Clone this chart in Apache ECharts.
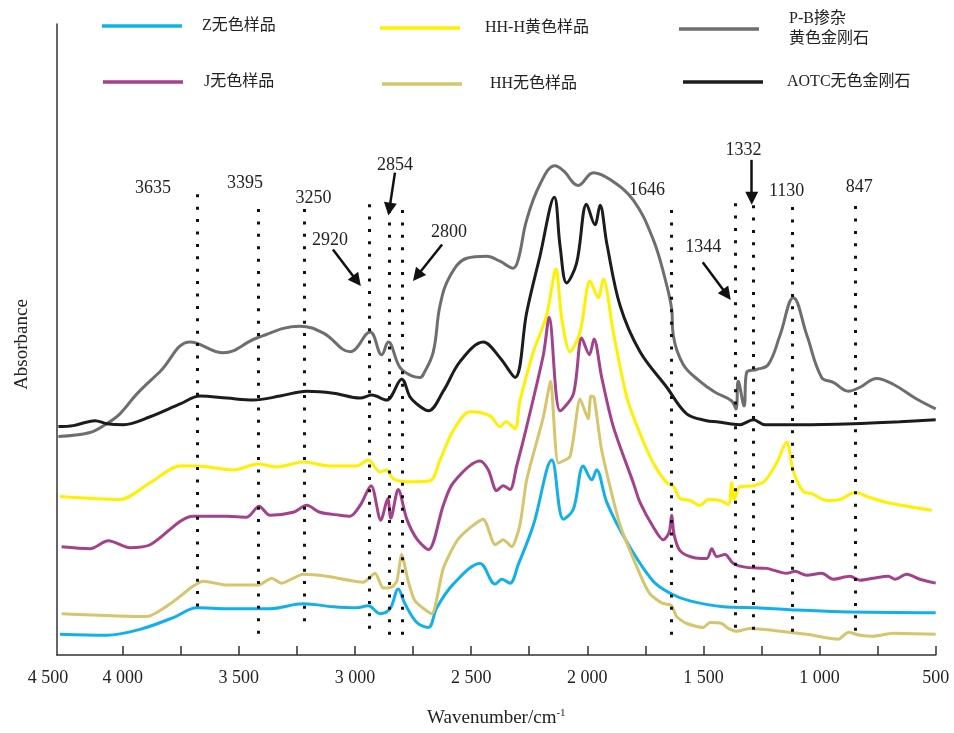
<!DOCTYPE html>
<html>
<head>
<meta charset="utf-8">
<script src="https://cdn.jsdelivr.net/npm/echarts@6/dist/echarts.min.js"></script>
<style>
html,body{margin:0;padding:0;background:#fff;}
#chart{width:954px;height:733px;}
</style>
</head>
<body>
<div id="chart"></div>
<script>
// ---------- DATA (wavenumber cm-1, stacked absorbance, arbitrary units) ----------
const seriesNames = ['Z无色样品', 'HH-H黄色样品', 'P-B掺杂\n黄色金刚石', 'J无色样品', 'HH无色样品', 'AOTC无色金刚石'];

const zSample = [[4270,0.21],[4069,0.2],[3926,0.26],[3782,0.38],[3681,0.48],[3552,0.47],[3366,0.47],[3223,0.52],[3093,0.49],[2993,0.48],[2943,0.5],[2892,0.42],[2849,0.47],[2814,0.67],[2785,0.52],[2734,0.33],[2684,0.28],[2648,0.48],[2577,0.72],[2462,0.93],[2397,0.72],[2368,0.77],[2333,0.73],[2297,0.92],[2232,1.32],[2153,1.98],[2103,1.38],[2060,1.48],[2017,1.92],[1981,1.78],[1960,1.88],[1916,1.55],[1830,1.15],[1716,0.75],[1637,0.62],[1558,0.55],[1415,0.49],[1271,0.48],[1127,0.46],[912,0.44],[500,0.43]];

const hhhSample = [[4270,1.61],[4012,1.58],[3882,1.75],[3753,1.92],[3681,1.92],[3524,1.88],[3416,1.94],[3337,1.91],[3223,1.96],[3108,1.92],[2993,1.92],[2943,1.98],[2892,1.86],[2864,1.88],[2835,1.79],[2777,1.76],[2677,1.77],[2634,1.98],[2577,2.28],[2505,2.47],[2419,2.43],[2376,2.32],[2350,2.37],[2311,2.3],[2290,2.58],[2232,3.08],[2175,3.45],[2135,3.92],[2110,3.42],[2074,3.08],[2031,3.28],[1988,3.8],[1953,3.63],[1931,3.82],[1888,3.28],[1830,2.62],[1773,2.25],[1716,1.95],[1658,1.75],[1630,1.72],[1601,1.59],[1558,1.57],[1515,1.52],[1479,1.58],[1429,1.57],[1393,1.53],[1378,1.75],[1367,1.58],[1343,1.71],[1285,1.72],[1235,1.77],[1185,1.95],[1142,2.16],[1113,1.87],[1070,1.66],[1034,1.64],[969,1.57],[912,1.58],[848,1.65],[783,1.6],[711,1.55],[517,1.47]];

const pbSample = [[4277,2.22],[4141,2.26],[4069,2.35],[4012,2.45],[3940,2.65],[3839,2.88],[3710,3.18],[3567,3.07],[3423,3.22],[3237,3.34],[3136,3.27],[3021,3.08],[2935,3.28],[2885,3.05],[2857,3.18],[2806,2.92],[2749,2.83],[2720,2.82],[2706,2.85],[2663,3.08],[2634,3.55],[2591,3.85],[2519,4.03],[2433,4.05],[2376,4.0],[2319,3.93],[2297,4.02],[2261,4.42],[2204,4.78],[2139,4.97],[2103,4.92],[2039,4.77],[1974,4.9],[1902,4.83],[1802,4.62],[1716,4.22],[1665,3.82],[1637,3.52],[1630,3.25],[1587,2.95],[1515,2.78],[1450,2.67],[1378,2.58],[1360,2.5],[1350,2.78],[1325,2.53],[1314,2.87],[1271,2.9],[1221,2.95],[1170,3.25],[1113,3.63],[1055,3.25],[991,2.82],[941,2.77],[876,2.68],[826,2.72],[754,2.81],[683,2.75],[582,2.6],[500,2.5]];

const jSample = [[4263,1.1],[4141,1.08],[4062,1.16],[3969,1.09],[3882,1.12],[3696,1.41],[3552,1.41],[3466,1.4],[3413,1.51],[3366,1.42],[3266,1.45],[3208,1.52],[3151,1.45],[3065,1.42],[3021,1.41],[2978,1.52],[2931,1.72],[2889,1.37],[2859,1.59],[2846,1.39],[2814,1.68],[2777,1.38],[2734,1.18],[2684,1.07],[2620,1.52],[2577,1.75],[2462,1.97],[2426,1.88],[2390,1.67],[2362,1.72],[2333,1.68],[2304,1.92],[2261,2.32],[2189,3.05],[2164,3.43],[2117,2.48],[2060,2.65],[2024,3.22],[1991,3.05],[1971,3.21],[1938,2.82],[1888,2.32],[1802,1.75],[1773,1.55],[1716,1.3],[1673,1.17],[1647,1.25],[1637,1.42],[1626,1.22],[1601,1.06],[1544,0.99],[1486,0.98],[1464,1.08],[1443,1.0],[1407,1.02],[1371,0.93],[1314,0.89],[1228,0.88],[1142,0.83],[1106,0.85],[1055,0.81],[991,0.83],[941,0.77],[869,0.8],[826,0.76],[769,0.78],[704,0.8],[675,0.77],[625,0.82],[568,0.77],[500,0.73]];

const hhSample = [[4263,0.42],[3897,0.39],[3796,0.52],[3696,0.7],[3653,0.75],[3552,0.71],[3416,0.71],[3359,0.78],[3316,0.73],[3223,0.82],[3122,0.8],[2964,0.74],[2914,0.83],[2878,0.68],[2842,0.69],[2820,0.75],[2799,1.02],[2771,0.75],[2742,0.55],[2670,0.42],[2620,0.88],[2555,1.18],[2448,1.38],[2397,1.12],[2362,1.17],[2325,1.1],[2290,1.32],[2261,1.78],[2189,2.42],[2158,2.78],[2125,1.95],[2074,2.02],[2031,2.6],[1996,2.4],[1985,2.63],[1971,2.62],[1938,2.08],[1859,1.32],[1773,0.82],[1730,0.62],[1680,0.53],[1637,0.5],[1615,0.39],[1572,0.32],[1501,0.28],[1472,0.33],[1421,0.32],[1393,0.27],[1357,0.24],[1300,0.27],[1199,0.25],[1055,0.21],[919,0.16],[876,0.23],[826,0.2],[769,0.19],[683,0.22],[500,0.21]];

const aotcSample = [[4277,2.32],[4213,2.33],[4119,2.38],[4069,2.35],[3997,2.34],[3882,2.42],[3753,2.55],[3667,2.63],[3552,2.61],[3438,2.59],[3323,2.63],[3208,2.68],[3093,2.66],[2978,2.61],[2928,2.64],[2864,2.59],[2799,2.8],[2763,2.62],[2734,2.55],[2684,2.48],[2620,2.68],[2548,2.98],[2448,3.18],[2376,3.02],[2311,2.82],[2261,3.48],[2204,4.05],[2142,4.65],[2117,4.15],[2089,3.78],[2046,3.98],[2003,4.58],[1967,4.37],[1945,4.57],[1916,4.18],[1859,3.55],[1773,3.08],[1658,2.72],[1572,2.45],[1486,2.38],[1443,2.37],[1343,2.34],[1285,2.39],[1235,2.34],[1084,2.34],[855,2.35],[654,2.37],[500,2.39]];

// band annotations (labels as printed; line positions as drawn in the figure)
const bandLabels = ['3635', '3395', '3250', '2920', '2854', '2800', '1646', '1344', '1332', '1130', '847'];
const bandLinePos = [3680, 3418, 3218, 2938, 2852, 2795, 1638, 1361, 1285, 1118, 845];

// x axis ticks & labels
const xTickValues = [500, 750, 1000, 1250, 1500, 1750, 2000, 2250, 2500, 2750, 3000, 3250, 3500, 3750, 4000];
const xLabelValues = [500, 1000, 1500, 2000, 2500, 3000, 3500, 4000, 4283];
const xLabelTexts = ['500', '1 000', '1 500', '2 000', '2 500', '3 000', '3 500', '4 000', '4 500'];

// ---------- LAYOUT / STYLE ----------
const SERIF = "'Liberation Serif', 'Noto Sans CJK SC', serif";
const colors = ['#12b0ea', '#fff000', '#6e6e6e', '#a3428a', '#d5c56c', '#1c1c1c'];
const seriesData = [zSample, hhhSample, pbSample, jSample, hhSample, aotcSample];
const smoothness = [0.35, 0.3, 0.4, 0.3, 0.2, 0.35];

// dotted band lines: top / bottom extent (y units)
const bandTop = [4.68, 4.53, 4.53, 4.58, 4.52, 4.52, 4.52, 4.59, 4.57, 4.55, 4.56];
const bandBottom = [0.40, 0.13, 0.25, 0.19, 0.13, 0.12, 0.13, 0.20, 0.19, 0.16, 0.17];
// label anchor positions (x in cm-1, y units)
const labelAnchors = [[3870,4.74],[3474,4.79],[3179,4.64],[3108,4.21],[2828,4.97],[2595,4.29],[1743,4.72],[1501,4.14],[1328,5.13],[1142,4.71],[829,4.75]];
// arrows: [from, to]
const arrows = [
  [[3095,4.12],[2992,3.80]],
  [[2828,4.90],[2852,4.53]],
  [[2625,4.17],[2733,3.85]],
  [[1503,3.99],[1399,3.66]],
  [[1292,5.03],[1292,4.64]]
];

const legendPos = [
  {left: 97, top: 11, pad: 15},
  {left: 375, top: 13, pad: 20},
  {left: 674, top: 4, pad: 25},
  {left: 98, top: 67, pad: 16},
  {left: 377, top: 69, pad: 23},
  {left: 678, top: 67, pad: 19}
];

const chart = echarts.init(document.getElementById('chart'), null, {renderer: 'canvas'});

const series = seriesNames.map((name, i) => ({
  name: name,
  type: 'line',
  data: seriesData[i],
  symbol: 'none',
  smooth: smoothness[i],
  lineStyle: {color: colors[i], width: 3},
  itemStyle: {color: colors[i]},
  z: 3,
  animation: false
}));

series.push({
  name: 'bands',
  type: 'line',
  data: [],
  silent: true,
  animation: false,
  z: 2,
  markLine: {
    silent: true,
    animation: false,
    symbol: 'none',
    label: {show: false},
    lineStyle: {color: '#111', width: 3, type: [3, 9.4], cap: 'butt'},
    data: bandLinePos.map((x, i) => [{coord: [x, bandTop[i]]}, {coord: [x, bandBottom[i]]}])
  },
  markPoint: {
    silent: true,
    animation: false,
    symbol: 'circle',
    symbolSize: 1,
    itemStyle: {color: 'rgba(0,0,0,0)'},
    label: {show: true, position: 'inside', formatter: '{b}', color: '#222', fontSize: 18, fontFamily: SERIF},
    data: bandLabels.map((t, i) => ({name: t, coord: labelAnchors[i]}))
  }
});

series.push({
  name: 'arrows',
  type: 'line',
  data: [],
  silent: true,
  animation: false,
  z: 4,
  markLine: {
    silent: true,
    animation: false,
    symbol: ['none', 'triangle'],
    symbolSize: 13,
    label: {show: false},
    lineStyle: {color: '#111', width: 2.5, type: 'solid'},
    data: arrows.map(a => [{coord: a[0]}, {coord: a[1]}])
  }
});

const legends = seriesNames.map((name, i) => ({
  data: [name],
  left: legendPos[i].left,
  top: legendPos[i].top,
  icon: 'rect',
  itemWidth: 80,
  itemHeight: 3.5,
  selectedMode: false,
  textStyle: {
    fontFamily: SERIF,
    fontSize: 16,
    lineHeight: 20,
    color: '#222',
    padding: [0, 0, 0, legendPos[i].pad]
  }
}));

const option = {
  backgroundColor: '#fff',
  animation: false,
  legend: legends,
  grid: {left: 57, right: 18.3, top: 24, bottom: 68, containLabel: false},
  xAxis: {
    type: 'value',
    inverse: true,
    min: 500,
    max: 4283,
    axisLine: {show: true, onZero: false, lineStyle: {color: '#333', width: 1.5}},
    axisTick: {show: true, inside: true, length: 9, customValues: xTickValues, lineStyle: {color: '#333', width: 1.5}},
    axisLabel: {
      customValues: xLabelValues,
      formatter: function (v) {
        const k = xLabelValues.indexOf(v);
        if (k < 0) return '';
        return k === xLabelValues.length - 1 ? '{first|' + xLabelTexts[k] + '}' : xLabelTexts[k];
      },
      rich: {first: {fontSize: 18, fontFamily: SERIF, color: '#222', padding: [0, 18, 0, 0]}},
      margin: 14,
      fontSize: 18,
      fontFamily: SERIF,
      color: '#222'
    },
    splitLine: {show: false},
    name: 'Wavenumber/cm{sup|-1}',
    nameLocation: 'middle',
    nameGap: 53,
    nameTextStyle: {
      fontFamily: SERIF, fontSize: 19, color: '#222',
      rich: {sup: {fontFamily: SERIF, fontSize: 11, color: '#222', padding: [0, 0, 10, 0]}}
    }
  },
  yAxis: {
    type: 'value',
    min: 0,
    max: 6.41,
    axisLine: {show: true, lineStyle: {color: '#333', width: 1.5}},
    axisTick: {show: false},
    axisLabel: {show: false},
    splitLine: {show: false},
    name: 'Absorbance',
    nameLocation: 'middle',
    nameGap: 25,
    nameRotate: 90,
    nameTextStyle: {fontFamily: SERIF, fontSize: 19, color: '#222', padding: [0, 10, 0, 0]}
  },
  series: series
};

chart.setOption(option);
</script>
</body>
</html>
